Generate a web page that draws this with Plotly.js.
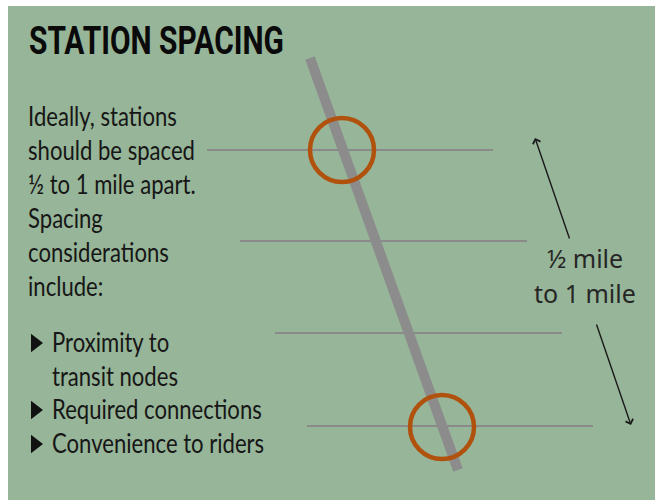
<!DOCTYPE html>
<html><head><meta charset="utf-8">
<script src="https://cdn.plot.ly/plotly-3.0.1.min.js"></script>
<style>html,body{margin:0;padding:0;background:#fff}</style>
</head><body><div id="chart" style="width:655px;height:500px"></div>
<script>
// ---- content / data ----
const titleText = "STATION SPACING";
const paraLines = ["Ideally, stations", "should be spaced", "½ to 1 mile apart.", "Spacing", "considerations", "include:"];
const paraBaselines = [126, 160, 194, 228, 262, 296];
const bulletLines = ["Proximity to", "transit nodes", "Required connections", "Convenience to riders"];
const bulletBaselines = [352, 386, 419, 453];
const bulletFlags = [true, false, true, true];
// cross streets (y, x start, x end)
const streetY = [150, 241, 333, 426];
const streetX0 = [207, 240, 275, 307];
const streetX1 = [493, 527, 562, 593];
// transit line (diagonal)
const railX = [310, 458];
const railY = [58, 470];
// stations
const stationX = [342, 442];
const stationY = [150, 427];
const stationR = 32;
// distance arrows: [tailX, tailY, headX, headY]
const arrowUp = [570, 240, 535, 138];
const arrowDown = [596, 323, 631, 425];
const distLabels = ["½ mile", "to 1 mile"];
const distLabelY = [258, 293];
const distLabelX = 585;

// ---- traces ----
const traces = [];
streetY.forEach((y, i) => {
  traces.push({x: [streetX0[i], streetX1[i]], y: [y, y], mode: "lines",
    line: {color: "#8a8a8a", width: 2}, hoverinfo: "skip", showlegend: false});
});
traces.push({x: railX, y: railY, mode: "lines", line: {color: "#8c8c8c", width: 10},
  hoverinfo: "skip", showlegend: false});
const bx = [], by = [];
bulletFlags.forEach((f, i) => { if (f) { bx.push(35); by.push(bulletBaselines[i] - 9); } });
traces.push({x: bx, y: by, mode: "markers", marker: {symbol: "triangle-right", size: 16, color: "#111"},
  hoverinfo: "skip", showlegend: false});

// ---- annotations ----
const bodyFont = {family: "Lato, Roboto, sans-serif", size: 26, weight: 400, color: "#161616"};
const ann = [];
ann.push({x: 27, y: 41, xref: "x", yref: "y", xanchor: "left", yanchor: "middle", showarrow: false,
  text: titleText, name: "title",
  font: {family: "Roboto, Lato, sans-serif", size: 39, weight: 700, color: "#0a0a0a"}});
paraLines.forEach((t, i) => ann.push({x: 26, y: paraBaselines[i] - 10, xref: "x", yref: "y",
  xanchor: "left", yanchor: "middle", showarrow: false, text: t, font: bodyFont, name: "body"}));
bulletLines.forEach((t, i) => ann.push({x: 50, y: bulletBaselines[i] - 10, xref: "x", yref: "y",
  xanchor: "left", yanchor: "middle", showarrow: false, text: t, font: bodyFont, name: "body"}));
distLabels.forEach((t, i) => ann.push({x: distLabelX, y: distLabelY[i], xref: "x", yref: "y",
  xanchor: "center", yanchor: "middle", showarrow: false, text: t,
  font: {family: "'Noto Sans', 'Open Sans', sans-serif", size: 25, color: "#262626"}}));
[arrowUp, arrowDown].forEach(a => ann.push({x: a[2], y: a[3], ax: a[0], ay: a[1],
  xref: "x", yref: "y", axref: "x", ayref: "y", showarrow: true, text: "",
  arrowhead: 4, arrowsize: 1.1, arrowwidth: 1.4, arrowcolor: "#1a1a1a", standoff: 0}));

// ---- shapes ----
const shapes = [{type: "rect", xref: "x", yref: "y", x0: 8, x1: 660, y0: 6, y1: 505,
  fillcolor: "#97b598", line: {width: 0}, layer: "below"}];
stationX.forEach((cx, i) => shapes.push({type: "circle", xref: "x", yref: "y",
  x0: cx - stationR, x1: cx + stationR, y0: stationY[i] - stationR, y1: stationY[i] + stationR,
  line: {color: "#b0520e", width: 4.5}, fillcolor: "rgba(0,0,0,0)", layer: "above"}));

const layout = {
  width: 655, height: 500, margin: {l: 0, r: 0, t: 0, b: 0},
  paper_bgcolor: "#ffffff", plot_bgcolor: "#ffffff",
  xaxis: {range: [0, 655], visible: false, fixedrange: true},
  yaxis: {range: [500, 0], visible: false, fixedrange: true},
  shapes: shapes, annotations: ann, showlegend: false
};
Plotly.newPlot("chart", traces, layout, {displayModeBar: false, staticPlot: true}).then(gd => {
  // condense the left-panel text horizontally (the reference uses a condensed face)
  const textOf = i => gd.querySelector('g.annotation[data-index="' + i + '"] text.annotation-text');
  const refBody = textOf(1 + paraLines.indexOf("should be spaced"));
  const sBody = 167 / refBody.getComputedTextLength();
  const sTitle = 255 / textOf(0).getComputedTextLength();
  ann.forEach((a, i) => {
    if (a.name !== "body" && a.name !== "title") return;
    const t = textOf(i);
    const s = a.name === "title" ? sTitle : sBody;
    const left = t.getBBox().x;
    const prev = t.getAttribute("transform") || "";
    t.setAttribute("transform", prev + " translate(" + left + ",0) scale(" + s + ",1) translate(" + (-left) + ",0)");
  });
});
</script></body></html>
